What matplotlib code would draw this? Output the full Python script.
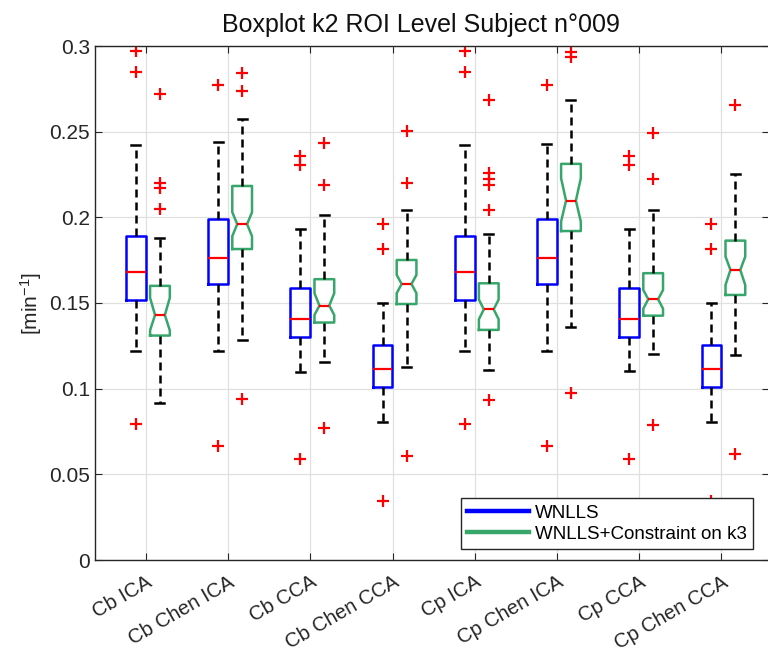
import numpy as np
import matplotlib
matplotlib.use("Agg")
import matplotlib.pyplot as plt
from matplotlib.lines import Line2D
from matplotlib.ticker import FuncFormatter

plt.rcParams['font.family'] = ['Liberation Sans', 'DejaVu Sans']
plt.rcParams['mathtext.default'] = 'regular'

# Groups (region x method)
categories = ['Cb ICA', 'Cb Chen ICA', 'Cb CCA', 'Cb Chen CCA',
              'Cp ICA', 'Cp Chen ICA', 'Cp CCA', 'Cp Chen CCA']

# WNLLS box statistics
wn_med = [0.168, 0.176, 0.1407, 0.1117, 0.168, 0.176, 0.1407, 0.1117]
wn_q1 = [0.152, 0.161, 0.1304, 0.1008, 0.152, 0.161, 0.1304, 0.1008]
wn_q3 = [0.189, 0.199, 0.1586, 0.1255, 0.189, 0.199, 0.1586, 0.1255]
wn_lo = [0.122, 0.122, 0.1097, 0.0804, 0.122, 0.1222, 0.1103, 0.0804]
wn_hi = [0.242, 0.244, 0.193, 0.1499, 0.242, 0.243, 0.193, 0.1499]
wn_out = [[0.2973, 0.285, 0.0792],
          [0.277, 0.0667],
          [0.2358, 0.2306, 0.0588],
          [0.196, 0.1816, 0.0346],
          [0.2973, 0.285, 0.0792],
          [0.277, 0.0667],
          [0.2358, 0.2306, 0.0588],
          [0.196, 0.1816, 0.0346]]

# WNLLS + constraint on k3 box statistics (notched)
ct_med = [0.143, 0.196, 0.1485, 0.1611, 0.1463, 0.2098, 0.1522, 0.1693]
ct_q1 = [0.131, 0.1815, 0.1386, 0.1494, 0.1343, 0.192, 0.1426, 0.1547]
ct_q3 = [0.160, 0.2183, 0.1639, 0.1751, 0.1615, 0.2312, 0.1674, 0.1864]
ct_lo = [0.0915, 0.1284, 0.1156, 0.1127, 0.1107, 0.1362, 0.1201, 0.1197]
ct_hi = [0.188, 0.2575, 0.2014, 0.2041, 0.1905, 0.2685, 0.2043, 0.2253]
ct_cilo = [0.134, 0.189, 0.143, 0.1557, 0.1405, 0.1975, 0.1467, 0.1605]
ct_cihi = [0.153, 0.203, 0.1557, 0.1664, 0.152, 0.2228, 0.1576, 0.1771]
ct_out = [[0.272, 0.220, 0.217, 0.205],
          [0.2845, 0.274, 0.094],
          [0.2432, 0.2187, 0.0771],
          [0.2506, 0.2199, 0.0609],
          [0.2685, 0.2257, 0.2224, 0.2189, 0.2041, 0.0934],
          [0.2967, 0.2938, 0.0977],
          [0.2491, 0.2224, 0.0786],
          [0.2656, 0.0619]]

BLUE = '#0000ff'
GREEN = '#36a66b'
RED = '#ff0000'

fig = plt.figure(figsize=(7.68, 6.58), dpi=100)
ax = fig.add_axes([95 / 768, 1 - 560 / 658, 674 / 768, 514 / 658])

pos = np.arange(1, len(categories) + 1)
wid = 0.24


def stats(med, q1, q3, lo, hi, out, cilo=None, cihi=None):
    res = []
    for i in range(len(med)):
        d = dict(med=med[i], q1=q1[i], q3=q3[i], whislo=lo[i], whishi=hi[i],
                 fliers=out[i])
        if cilo is not None:
            d['cilo'] = cilo[i]
            d['cihi'] = cihi[i]
        res.append(d)
    return res


common = dict(
    widths=wid, capwidths=0.11, showfliers=True, patch_artist=False,
    medianprops=dict(color=RED, lw=1.6),
    whiskerprops=dict(color='black', lw=1.8, linestyle=(0, (3.2, 2.0))),
    capprops=dict(color='black', lw=1.8),
    flierprops=dict(marker='+', markeredgecolor=RED, markersize=9,
                    markeredgewidth=1.6, linestyle='none'),
    manage_ticks=False,
)

ax.bxp(stats(wn_med, wn_q1, wn_q3, wn_lo, wn_hi, wn_out),
       positions=pos - 0.122, shownotches=False,
       boxprops=dict(color=BLUE, lw=1.8), **common)
ax.bxp(stats(ct_med, ct_q1, ct_q3, ct_lo, ct_hi, ct_out, ct_cilo, ct_cihi),
       positions=pos + 0.17, shownotches=True,
       boxprops=dict(color=GREEN, lw=1.8), **common)

ax.set_xlim(0.38, 1 + 623 / 82.2)
ax.set_ylim(0, 0.3)
ax.set_xticks(pos)
ax.set_xticklabels(categories, rotation=30, ha='right', rotation_mode='anchor',
                   fontsize=14.5)
ax.set_yticks(np.arange(0, 0.301, 0.05))
ax.yaxis.set_major_formatter(FuncFormatter(lambda v, p: '%g' % round(v, 2)))
ax.tick_params(axis='y', labelsize=15)
ax.tick_params(axis='x', pad=9)
ax.tick_params(direction='in', length=5, colors='#262626', top=True, right=True)
ax.grid(True, color='#e0e0e0', lw=0.9)
ax.set_axisbelow(True)
for s in ax.spines.values():
    s.set_color('#262626')
    s.set_linewidth(1.0)

ax.set_ylabel('[min$^{-1}$]', fontsize=15, color='#262626')
ax.set_title('Boxplot k2 ROI Level Subject n°009', fontsize=18, color='#111111',
             x=(421 - 95) / 674, pad=10)

handles = [Line2D([], [], color=BLUE, lw=3.2),
           Line2D([], [], color=GREEN, lw=3.2)]
leg = ax.legend(handles, ['WNLLS', 'WNLLS+Constraint on k3'], loc='lower right',
                bbox_to_anchor=(753 / 768, 1 - 549.3 / 658),
                bbox_transform=fig.transFigure, borderaxespad=0,
                fontsize=13.5, handlelength=3.3, handletextpad=0.3,
                labelspacing=0.2, borderpad=0.35, fancybox=False,
                framealpha=1, edgecolor='#262626')
leg.get_frame().set_linewidth(1.0)
leg.set_zorder(10)

fig.savefig('out.png', dpi=100)
